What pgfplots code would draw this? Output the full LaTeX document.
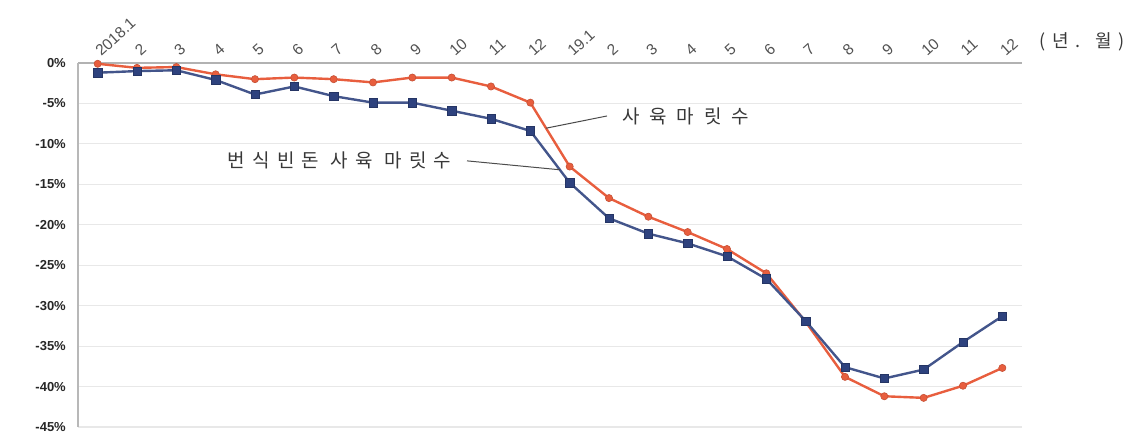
\documentclass[border=0pt]{standalone}
\usepackage{pgfplots}
\usepackage{pgfplotstable}
\pgfplotsset{compat=1.18}
\usepackage{fontspec}
\setmainfont{Liberation Sans}
\newfontfamily\kr[LetterSpace=38]{Noto Sans CJK KR}
\newfontfamily\krwide[LetterSpace=52]{Noto Sans CJK KR}

\definecolor{sowred}{RGB}{232,94,62}
\definecolor{sownavy}{RGB}{46,66,126}

% month index, total pig herd change (%), breeding sow herd change (%)
\pgfplotstableread{
x total breed
0  -0.1  -1.2
1  -0.6  -1.0
2  -0.5  -0.9
3  -1.4  -2.1
4  -2.0  -3.9
5  -1.8  -2.9
6  -2.0  -4.1
7  -2.4  -4.9
8  -1.8  -4.9
9  -1.8  -5.9
10 -2.9  -6.9
11 -4.9  -8.4
12 -12.8 -14.8
13 -16.7 -19.2
14 -19.0 -21.1
15 -20.9 -22.3
16 -23.0 -23.9
17 -26.0 -26.7
18 -32.0 -31.9
19 -38.8 -37.6
20 -41.2 -39.0
21 -41.4 -37.9
22 -39.9 -34.5
23 -37.7 -31.3
}\herd

\begin{document}
\begin{tikzpicture}
\useasboundingbox (0,0) rectangle (1128pt,438pt);
\begin{axis}[
  at={(78pt,11pt)}, anchor=south west,
  scale only axis, width=944pt, height=364pt,
  xmin=-0.5, xmax=23.5, ymin=-45, ymax=0,
  clip=false,
  axis x line*=top, axis y line*=left,
  x axis line style={draw=black!30, line width=1.2pt},
  y axis line style={draw=black!28, line width=1.8pt},
  xtick={0,...,23},
  xticklabels={2018.1,2,3,4,5,6,7,8,9,10,11,12,19.1,2,3,4,5,6,7,8,9,10,11,12},
  ytick={-45,-40,-35,-30,-25,-20,-15,-10,-5,0},
  yticklabels={-45\%,-40\%,-35\%,-30\%,-25\%,-20\%,-15\%,-10\%,-5\%,0\%},
  major tick length=0pt,
  ymajorgrids,
  grid style={draw=black!9, line width=1.2pt},
  xticklabel shift=10pt,
  xticklabel style={anchor=west, rotate=42, inner sep=0pt,
    font=\fontsize{15.5}{15.5}\selectfont, text=black!68},
  yticklabel style={inner sep=0pt, xshift=-12pt,
    font=\fontsize{13}{14}\selectfont\bfseries, text=black!85},
]
\addplot[sowred, line width=2.4pt, mark=*, mark size=3.6pt,
  mark options={fill=sowred, draw=sowred!85!black, line width=0.6pt}]
  table[x=x, y=total] {\herd};
\addplot[sownavy!90!white, line width=2.4pt, mark=square*, mark size=4.2pt,
  mark options={fill=sownavy, draw=sownavy!80!black, line width=0.6pt}]
  table[x=x, y=breed] {\herd};

\draw[black!70, line width=1pt] (axis cs:11.4,-8.06) -- (axis cs:12.95,-6.55);
\node[anchor=west, inner sep=0pt, text=black!78] at (axis cs:13.33,-6.55)
  {\fontsize{19}{19}\krwide 사육마릿수};
\draw[black!70, line width=1pt] (axis cs:9.39,-12.1) -- (axis cs:11.75,-13.2);
\node[anchor=east, inner sep=0pt, text=black!78] at (axis cs:9.0,-12.0)
  {\fontsize{19}{19}\kr 번식빈돈 사육 마릿수};
\end{axis}
\node[inner sep=0pt, text=black!78] at (1082pt,396pt)
  {\fontsize{18}{18}\kr (년. 월)};
\end{tikzpicture}
\end{document}
